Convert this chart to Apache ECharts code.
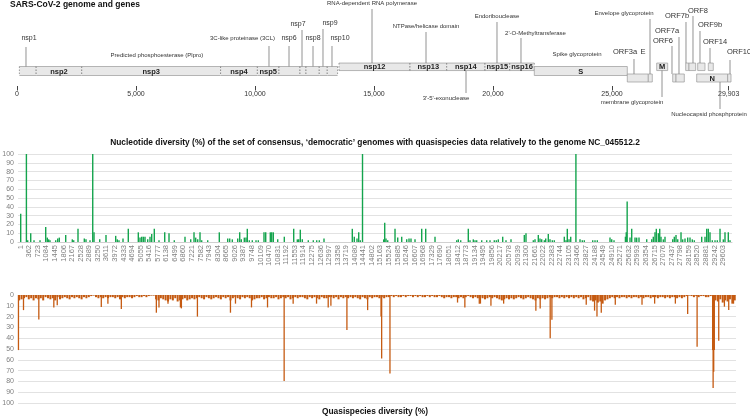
<!DOCTYPE html>
<html><head><meta charset="utf-8">
<script src="https://cdn.jsdelivr.net/npm/echarts@6/dist/echarts.min.js"></script>
<style>html,body{margin:0;padding:0;background:#fff}#c{width:750px;height:417px}</style>
</head><body><div id="c"></div>
<script>
// ---------------- DATA ----------------
const genomeTicks = [0, 5000, 10000, 15000, 20000, 25000, 29903];

const geneNames = ['nsp1','nsp2','nsp3','nsp4','nsp5','nsp6','nsp7','nsp8','nsp9','nsp10',
  'nsp12','nsp13','nsp14','nsp15','nsp16','S','ORF3a','E','M','ORF6','ORF7a','ORF7b','ORF8','ORF9b','ORF14','N','ORF10'];
const geneStart = [100,806,2720,8555,10100,11008,11891,12143,12700,13036,
  13529,16513,18055,19664,20702,21735,25643,26525,26878,27551,27690,28096,28235,28600,29046,28558,29861];
const geneEnd = [806,2720,8555,10100,11008,11891,12143,12700,13036,13470,
  16513,18055,19664,20702,21735,25643,26525,26693,27340,27690,28038,28235,28516,28907,29256,29861,30000];
const geneRow = ['mid','mid','mid','mid','mid','mid','mid','mid','mid','mid',
  'up','up','up','up','up','mid','low','low','up','low','low','up','up','up','up','low','low'];
const geneLabelled = ['nsp2','nsp3','nsp4','nsp5','nsp12','nsp13','nsp14','nsp15','nsp16','S','M','N'];

// Nucleotide diversity (%) bars: genome position, value
const diversityPos = [1,241,296,423,562,815,1055,1122,1181,1236,
  1476,1561,1628,1898,2176,2235,2416,2682,2753,2922,
  3037,3091,3331,3596,4005,4073,4144,4313,4536,4958,
  5030,5101,5169,5240,5354,5451,5523,5632,5830,6071,
  6252,6475,6926,7167,7306,7377,7462,7559,7630,7883,
  8372,8726,8810,8920,9148,9232,9299,9426,9498,9552,
  9637,9763,9919,10016,10256,10328,10522,10581,10648,10834,
  11112,11508,11660,11719,11786,11870,12123,12334,12477,12587,
  12785,13978,14062,14176,14248,14315,14408,15301,15344,15398,
  15470,15778,15892,16060,16271,16368,16452,16621,16903,17072,
  17464,18378,18446,18547,18867,18939,19078,19150,19221,19432,
  19643,19782,19963,20048,20132,20317,20456,20667,21228,21299,
  21607,21679,21818,21889,21961,22071,22130,22239,22311,22408,
  22492,22914,22985,23040,23112,23184,23403,23576,23672,23757,
  24111,24208,24305,24840,24912,25009,25490,25525,25563,25683,
  25755,25894,25965,26062,26387,26598,26665,26737,26792,26876,
  26935,26990,27087,27158,27483,27550,27622,27694,27833,27904,
  28001,28115,28212,28309,28394,28705,28844,28916,28983,29055,
  29152,29266,29363,29477,29616,29687,29826,29898];
const diversityPct = [32,100,2,10,2,2,17,5,3,2,
  2,4,5,8,3,2,15,4,3,2,
  100,11,3,8,7,3,2,4,15,11,
  5,6,6,6,3,6,9,15,2,11,
  10,2,6,3,11,5,3,11,2,2,
  11,4,4,3,4,11,3,5,5,15,
  2,2,2,2,11,11,11,11,11,3,
  6,15,3,3,14,3,2,2,2,2,
  4,15,6,4,11,2,100,3,22,4,
  2,15,5,6,3,4,4,3,15,15,
  6,2,3,2,15,2,3,2,2,2,
  2,2,2,2,3,6,2,3,8,10,
  2,3,8,4,3,2,4,9,3,2,
  2,6,2,15,3,6,100,3,2,2,
  2,2,2,5,3,2,6,11,46,5,
  15,5,5,5,3,3,6,11,15,10,
  15,6,3,6,3,6,8,3,11,3,
  4,5,5,3,2,6,6,15,15,11,
  2,2,2,15,3,11,11,2];
const diversityTicks = [1,362,723,1084,1445,1806,2167,2528,2889,3250,3611,3972,4333,4694,5055,5416,5777,6138,6499,6860,
  7221,7582,7943,8304,8665,9026,9387,9748,10109,10470,10831,11192,11553,11914,12275,12636,12997,13358,13719,14080,
  14441,14802,15163,15524,15885,16246,16607,16968,17329,17690,18051,18412,18773,19134,19495,19856,20217,20578,20939,21300,
  21661,22022,22383,22744,23105,23466,23827,24188,24549,24910,25271,25632,25993,26354,26715,27076,27437,27798,28159,28520,
  28881,29242,29603];

// Quasispecies diversity (%): background level per 100-nt bin, plus peaks
const quasiBinSize = 100;
const quasiBins = [
  5,4,3,2,4,3,5,3,4,3, 5,2,3,4,3,5,2,4,3,2, 3,4,2,3,2,3,4,2,3,2, 1,0.5,2,3,2,3,2,3,2,2,
  3,2,4,2,3,2,2,3,2,1, 2,2,1,2,1,0.5,0.5,4,5,3, 4,5,6,4,5,3,6,5,4,3, 5,4,3,4,3,2,3,4,2,3,
  4,3,2,3,4,2,3,2,5,3, 2,3,4,2,3,2,3,5,4,3,
  3,2,4,3,2,3,3,2,4,3, 2,3,2,4,3,2,3,2,2,3, 4,2,3,2,3,4,2,3,3,2, 2,3,2,4,2,3,2,3,2,3,
  2,3,4,2,3,4,2,3,2,2, 3,2,3,2,2,1,2,1,2,2, 1,2,1,1,2,1,2,1,2,2, 1,2,1,2,2,1,2,3,2,2,
  3,2,2,3,2,3,2,1,2,3, 2,3,2,3,4,3,2,3,2,3,
  4,5,4,3,4,3,4,3,2,3, 4,3,2,3,4,5,3,4,3,4, 3,2,3,2,2,3,2,3,2,3, 2,3,2,3,2,4,3,2,5,6,
  5,7,6,8,5,4,3,2,3,2, 3,2,2,3,2,3,2,2,3,2, 3,2,2,3,2,2,3,2,2,3, 2,3,2,2,3,2,3,2,1,0.5,
  1,2,1,2,1,1,2,2,1,2, 5,6,4,7,5,6,4,8,5];
const quasiPeakPos = [20,230,868,1493,1635,3470,3745,4304,5763,5872,
  6248,6765,6806,7473,8849,9058,9725,10393,11085,11460,
  12434,12920,13032,13699,14562,15120,15146,15492,18306,18611,
  19212,19260,19697,20226,21568,21748,22165,22236,23666,24013,
  24113,24292,24876,25989,26514,27378,27890,28283,28930,28950,
  28975,29000,29184,29420,29600,29800];
const quasiPeakPct = [51,14,22.6,11.5,9.6,11,8,13,16.4,11.5,
  8,11.5,12.4,20,16.4,8,11.5,11.5,79.6,8,
  8,11.5,10,32.5,14,20,58.8,72.8,7,11.5,
  8,8,10,8,14.5,12.4,40,23,9,14.5,
  20,16.4,9,9,8,8,17.6,48,51,86,
  71,51,42.4,10.8,14,8];

// ---------------- LAYOUT / STYLE ----------------
const FONT = 'Liberation Sans';
const GREEN = '#14a44d', ORANGE = '#c55a11', GRAY = '#808080', GRID = '#e2e2e2';
// genome track rows (y-axis units of the genome panel)
const ROWS = {up:{y:66.8,h:7.5}, mid:{y:71,h:9}, low:{y:78,h:8}};
// callouts: text, leader x (nt), text x (nt), text y, leader top, leader bottom, font size
const calloutLayout = [
  ['nsp1',378,504,38,47,66.5,7],
  ['Predicted phosphoesterase (Plpro)',null,5880,55,0,0,6],
  ['3C-like proteinase (3CL)',10588,9476,38,46,66.5,6],
  ['nsp6',11429,11429,38,46,66.5,7],
  ['nsp7',11975,11807,24,30,66.5,7],
  ['nsp8',12437,12437,38,46,66.5,7],
  ['nsp9',12857,13151,23,29,66.5,7],
  ['nsp10',13235,13571,38,46,66.5,7],
  ['RNA-dependent RNA polymerase',14916,14916,3.5,9,63,6],
  ['NTPase/helicase domain',17185,17185,26,32,63,6],
  ['Endoribouclease',20168,20168,16,22,63,6],
  ["2'-O-Methyltransferase",21176,21786,33,38,63,6],
  ["3'-5'-exonuclease",18866,18025,98,71,93,6],
  ['Spike glycoprotein',null,23530,54,0,0,6],
  ['Envelope glycoprotein',26597,25504,13,19,74,6],
  ['ORF3a',25924,25546,52,59,74,7.5],
  ['E',null,26303,52,0,0,7.5],
  ['ORF6',27521,27143,41,46,74,7.5],
  ['ORF7a',27815,27311,31,37,74,7.5],
  ['ORF7b',28109,27731,16,22,63,7.5],
  ['ORF8',28403,28613,11,16,63,7.5],
  ['ORF9b',28697,29118,25,31,63,7.5],
  ['ORF14',29118,29328,42,48,63,7.5],
  ['ORF10',29958,30336,52,60,74,7.5],
  ['membrane glycoprotein',27101,25840,102,70.5,97,6],
  ['Nucleocapsid phosphprotein',29538,29076,114,82,109,6]
];

function geneItem(params, api) {
  const i = params.dataIndex;
  const row = ROWS[geneRow[i]];
  const p0 = api.coord([geneStart[i], row.y - row.h / 2]);
  const p1 = api.coord([geneEnd[i], row.y + row.h / 2]);
  const x = p0[0], y = Math.min(p0[1], p1[1]), w = p1[0] - p0[0], h = Math.abs(p1[1] - p0[1]);
  const isNsp = geneNames[i].indexOf('nsp') === 0;
  const stroke = '#9a9a9a';
  const children = [{type:'rect', shape:{x, y, width:w, height:h},
    style:{fill:'#e8e8e8', stroke: isNsp ? null : stroke, lineWidth:0.7}}];
  if (isNsp) {
    children.push({type:'line', shape:{x1:x,y1:y,x2:x+w,y2:y}, style:{stroke, lineWidth:0.7}});
    children.push({type:'line', shape:{x1:x,y1:y+h,x2:x+w,y2:y+h}, style:{stroke, lineWidth:0.7}});
    children.push({type:'line', shape:{x1:x,y1:y,x2:x,y2:y+h}, style:{stroke:'#777', lineWidth:0.7, lineDash:[1.5,1.5]}});
    children.push({type:'line', shape:{x1:x+w,y1:y,x2:x+w,y2:y+h}, style:{stroke:'#777', lineWidth:0.7, lineDash:[1.5,1.5]}});
  }
  if (geneLabelled.indexOf(geneNames[i]) >= 0) {
    children.push({type:'text', style:{text:geneNames[i], x:x + w / 2, y:y + h / 2 + 0.5,
      align:'center', verticalAlign:'middle', fontSize:7.5, fontWeight:'bold', fontFamily:FONT, fill:'#222'}});
  }
  return {type:'group', children};
}

function calloutItem(params, api) {
  const c = calloutLayout[params.dataIndex];
  const children = [];
  const t = api.coord([c[2], c[3]]);
  children.push({type:'text', style:{text:c[0], x:t[0], y:t[1], align:'center', verticalAlign:'middle',
    fontSize:c[6], fontFamily:FONT, fill:'#333'}});
  if (c[1] !== null) {
    const a = api.coord([c[1], c[4]]), b = api.coord([c[1], c[5]]);
    children.push({type:'line', shape:{x1:a[0], y1:a[1], x2:b[0], y2:b[1]}, style:{stroke:'#777', lineWidth:0.8}});
  }
  return {type:'group', children};
}

function barRenderer(color, width) {
  return function (params, api) {
    const x = api.value(0), v = api.value(1);
    const a = api.coord([x, 0]), b = api.coord([x, v]);
    return {type:'rect', shape:{x:a[0] - width / 2, y:Math.min(a[1], b[1]), width, height:Math.abs(b[1] - a[1])},
      style:{fill:color}};
  };
}

const pctAxis = (grid, inverse) => ({
  gridIndex:grid, type:'value', min:0, max:100, interval:10, inverse,
  axisLine:{show:false}, axisTick:{show:false},
  axisLabel:{fontSize:7, color:GRAY, margin:4, fontFamily:FONT},
  splitLine:{lineStyle:{color:GRID, width:1}}
});

const chart = echarts.init(document.getElementById('c'), null, {renderer:'canvas'});
chart.setOption({
  animation:false,
  textStyle:{fontFamily:FONT},
  title:[
    {text:'SARS-CoV-2 genome and genes', left:10, top:0, padding:0,
      textStyle:{fontSize:8.5, fontWeight:'bold', color:'#111', fontFamily:FONT}},
    {text:'Nucleotide diversity (%) of the set of consensus, \u2018democratic\u2019 genomes with quasispecies data relatively to the genome NC_045512.2',
      left:'center', top:138.5, padding:0, textStyle:{fontSize:8.4, fontWeight:'bold', color:'#111', fontFamily:FONT}},
    {text:'Quasispecies diversity (%)', left:'center', top:407.5, padding:0,
      textStyle:{fontSize:8.4, fontWeight:'bold', color:'#111', fontFamily:FONT}}
  ],
  grid:[
    {left:17, right:19, top:0, height:86, outerBoundsMode:'none'},
    {left:18, right:18, top:154, height:88, outerBoundsMode:'none'},
    {left:18, right:14, top:295, height:108, outerBoundsMode:'none'}
  ],
  xAxis:[
    {gridIndex:0, type:'value', position:'bottom', min:0, max:30000,
      axisLine:{show:false, onZero:false}, splitLine:{show:false},
      axisTick:{show:true, customValues:genomeTicks, length:4.5, lineStyle:{color:'#444', width:1}},
      axisLabel:{customValues:genomeTicks, formatter:v => Number(v).toLocaleString('en-US'), fontSize:7, color:'#333', margin:5}},
    {gridIndex:1, type:'value', position:'bottom', min:-113, max:29982,
      axisLine:{show:true, onZero:false, lineStyle:{color:'#d0d0d0'}},
      axisTick:{show:false}, splitLine:{show:false},
      axisLabel:{customValues:diversityTicks, formatter:v => String(v), rotate:90, fontSize:7.5, color:GRAY, margin:3}},
    {gridIndex:2, type:'value', min:1, max:29903, show:false, axisLine:{onZero:false}}
  ],
  yAxis:[
    {gridIndex:0, type:'value', min:0, max:86, inverse:true, show:false},
    pctAxis(1, false),
    pctAxis(2, true)
  ],
  series:[
    {type:'custom', xAxisIndex:0, yAxisIndex:0, clip:false, renderItem:geneItem,
      data:geneNames.map((n, i) => [geneStart[i], geneEnd[i]])},
    {type:'custom', xAxisIndex:0, yAxisIndex:0, clip:false, renderItem:calloutItem,
      data:calloutLayout.map(c => [c[2], c[3]])},
    {type:'custom', xAxisIndex:1, yAxisIndex:1, renderItem:barRenderer(GREEN, 1.4),
      data:diversityPos.map((p, i) => [p, diversityPct[i]])},
    {type:'custom', xAxisIndex:2, yAxisIndex:2, renderItem:barRenderer(ORANGE, 2),
      data:quasiBins.map((v, i) => [i * quasiBinSize + quasiBinSize / 2, v])},
    {type:'custom', xAxisIndex:2, yAxisIndex:2, renderItem:barRenderer(ORANGE, 1.3),
      data:quasiPeakPos.map((p, i) => [p, quasiPeakPct[i]])}
  ]
});
</script></body></html>
